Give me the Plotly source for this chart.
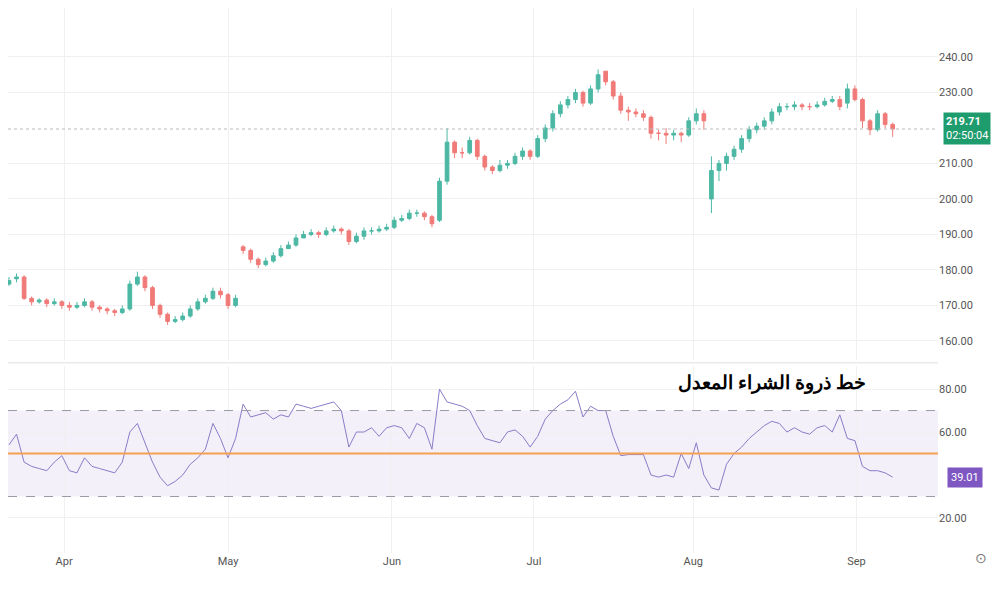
import plotly.graph_objects as go

# daily bars, indexed by trading day (late Mar .. early Sep)
closes = [177, 178, 172, 171, 171.5, 170.5, 171, 170, 169.5, 170,
          171, 169.5, 169, 168.5, 168, 169, 176, 178, 175, 170,
          167.5, 165.5, 166, 167, 169, 171, 172, 174, 173, 170,
          172, 185.5, 183, 181.5, 182.5, 184, 186, 187, 189, 190,
          190.5, 190, 191, 191.5, 191, 188, 189.5, 191, 191, 191.5,
          192, 194, 194.5, 196, 196, 195, 193, 205, 216, 213,
          213, 216.5, 212, 209, 208, 209.5, 210, 212, 213.5, 212,
          217, 220, 224, 226.5, 228, 230, 227, 231, 235, 233,
          229, 225, 224.5, 224, 223, 218.5, 218.5, 218, 218.5, 218,
          222, 224, 222, 208, 210, 212, 214, 217, 219.5, 220.5,
          222, 224.5, 226, 226, 226.5, 226, 226, 226.5, 227.5, 228,
          226, 231, 228, 222, 219.5, 224, 221, 219.71]
opens = [176, 177.5, 178, 172, 171, 171.5, 170.5, 171, 170, 169.5,
         170, 171, 169.5, 169, 168.5, 168, 169, 176, 178, 175,
         170, 167.5, 165.5, 166, 167, 169, 171, 172, 174, 173,
         170, 186.5, 185.5, 183, 181.5, 182.5, 184, 186, 187, 189,
         190, 190.5, 190, 191, 191.5, 191, 188, 189.5, 191, 191,
         191.5, 192, 194, 194.5, 196, 196, 195, 194, 205, 216,
         213, 213, 216.5, 212, 209, 208, 209.5, 210, 212, 213.5,
         212, 217, 220, 224, 226.5, 228, 230, 227, 231, 236,
         233, 229, 225, 224.5, 224, 223, 218.5, 218.5, 218, 218.5,
         218, 222, 224, 200, 208, 210, 212, 214, 217, 219.5,
         220.5, 222, 224.5, 226, 226, 226.5, 226, 226, 226.5, 227.5,
         228, 227, 231, 228, 222, 219.5, 224, 221]
highs = [178, 179, 178.5, 172.5, 172, 172, 172, 171.5, 171, 171,
         172, 171.5, 170, 169.5, 169, 170, 177, 179.5, 178.5, 175.5,
         170.5, 168, 167, 168, 170, 172, 173, 175, 175, 173.5,
         173, 187, 186, 183.5, 183.5, 185, 187, 188, 190, 191,
         191.5, 191, 192, 192.5, 192, 191.5, 190.5, 192, 192, 192.5,
         193, 195, 195.5, 197, 197, 196.5, 195.5, 206, 220, 216.5,
         214.5, 217.5, 217, 212.5, 209.5, 211, 211, 213, 214.5, 214,
         218, 221, 225, 227.5, 229, 231, 230.5, 232, 236.5, 236,
         233.5, 230, 226, 225.5, 225, 223.5, 219.5, 220, 219.5, 219,
         223, 225.5, 225, 212, 211, 213, 215, 218, 220.5, 221.5,
         223, 225.5, 227, 227, 227.5, 227, 227, 227.5, 228.5, 229,
         229, 232.5, 232, 228.5, 222.5, 225, 224.5, 221.5]
lows = [175.5, 176.5, 171.5, 170, 170.5, 169.5, 170, 169, 168.5, 169,
        169.5, 168.5, 168, 167.5, 167, 167.5, 168.5, 175.5, 174, 169,
        166.5, 164.5, 165, 165.5, 166.5, 168.5, 170.5, 171.5, 172, 169,
        169.5, 184.5, 182, 180.5, 181, 182, 183.5, 186, 186.5, 189,
        189.5, 189, 189.5, 190.5, 190, 187, 187.5, 188.5, 190, 190.5,
        191, 191.5, 193.5, 194, 195, 194, 192, 193.5, 204, 211.5,
        211.5, 212.5, 211, 208, 207, 207.5, 208.5, 209.5, 211, 211,
        211.5, 216, 219, 223, 225.5, 227, 226, 226.5, 230, 232,
        228, 224, 222, 223, 222, 217, 216.5, 215.5, 216.5, 216,
        217.5, 221, 219.5, 196, 205, 208, 211, 213, 216, 218.5,
        219.5, 221, 223.5, 225, 225, 225, 225, 225.5, 226, 227,
        225, 225.5, 227.5, 220, 218, 219, 220, 217.5]
rsi = [54, 59, 46, 44, 43, 42, 46, 49, 42, 41,
       48, 44, 43, 42, 41, 46, 60, 64, 55, 46,
       39, 35, 37, 40, 45, 48, 52, 64, 57, 48,
       57, 73, 67, 68, 69, 66, 68, 67, 73, 72,
       71, 72, 73, 74, 70, 53, 60, 60, 62, 58,
       62, 63, 62, 57, 64, 62, 52, 80, 74, 73,
       72, 70, 63, 57, 56, 55, 60, 61, 58, 53,
       58, 66, 70, 73, 75, 79, 67, 72, 70, 70,
       58, 49, 49.5, 49.5, 49.5, 40, 39, 40, 39, 50,
       43, 55, 40, 34, 33, 45, 50, 53, 57, 60,
       63, 65, 64, 60, 62, 60, 59, 62, 63, 60,
       68, 57, 56, 44, 42, 42, 41, 39.01]
idx = list(range(len(closes)))

month_labels = ["Apr", "May", "Jun", "Jul", "Aug", "Sep"]
month_pos = [7.3, 29, 50.7, 69.5, 90.6, 112.2]
price_ticks = [160, 170, 180, 190, 200, 210, 230, 240]
rsi_ticks = [20, 60, 80]
last_price = 219.71

grid = "#f0f0f3"
tick_font = dict(family="Roboto", size=11, color="#555")

fig = go.Figure()
fig.add_trace(go.Candlestick(
    x=idx, open=opens, high=highs, low=lows, close=closes,
    increasing=dict(line=dict(color="#4cb8a4", width=1), fillcolor="#4cb8a4"),
    decreasing=dict(line=dict(color="#f07a78", width=1), fillcolor="#f07a78"),
    whiskerwidth=0, showlegend=False, xaxis="x", yaxis="y"))
fig.add_trace(go.Scatter(
    x=idx, y=rsi, mode="lines", line=dict(color="#8a7cc8", width=1),
    showlegend=False, xaxis="x2", yaxis="y2"))

# RSI band and reference lines
fig.add_shape(type="rect", xref="x2 domain", yref="y2", x0=0, x1=1, y0=30, y1=70,
              fillcolor="rgba(126,87,194,0.09)", line_width=0, layer="below")
for lvl in (30, 70):
    fig.add_shape(type="line", xref="x2 domain", yref="y2", x0=0, x1=1, y0=lvl, y1=lvl,
                  line=dict(color="#9a9aa6", width=1, dash="dash"))
fig.add_shape(type="line", xref="x2 domain", yref="y2", x0=0, x1=1, y0=50, y1=50,
              line=dict(color="#f5a050", width=2))
fig.add_shape(type="line", xref="x domain", yref="y", x0=0, x1=1, y0=last_price, y1=last_price,
              line=dict(color="#bbbbbb", width=1, dash="dot"))
# pane separator
fig.add_shape(type="line", xref="paper", yref="paper", x0=0, x1=1, y0=0.349, y1=0.349,
              line=dict(color="#e0e0e0", width=1))

fig.add_annotation(x=1.005, xref="paper", y=last_price, yref="y", xanchor="left",
                   text="<b>219.71</b><br>02:50:04", showarrow=False, align="left",
                   bgcolor="#1e9c6e", font=dict(family="Roboto", size=11, color="white"),
                   borderpad=2)
fig.add_annotation(x=1.01, xref="paper", y=rsi[-1], yref="y2", xanchor="left",
                   text="39.01", showarrow=False, bgcolor="#7e57c2",
                   font=dict(family="Roboto", size=11, color="white"), borderpad=3)
fig.add_annotation(x=101, xref="x2", y=83.5, yref="y2", text="<b>خط ذروة الشراء المعدل</b>",
                   showarrow=False, font=dict(family="Noto Sans", size=19, color="black"))
fig.add_annotation(x=1.055, xref="paper", y=-0.03, yref="paper", text="⊙", showarrow=False,
                   font=dict(size=14, color="#777"))

xcommon = dict(range=[-0.13, 123.0], showgrid=True, gridcolor=grid, zeroline=False,
               tickvals=month_pos, ticktext=month_labels, tickfont=tick_font,
               rangeslider=dict(visible=False))
fig.update_layout(
    width=1004, height=590, plot_bgcolor="white", paper_bgcolor="white",
    margin=dict(l=0, r=74, t=0, b=45),
    xaxis=dict(**xcommon, showticklabels=False, anchor="y"),
    xaxis2=dict(**xcommon, anchor="y2", matches="x", ticks=""),
    yaxis=dict(domain=[0.354, 1], range=[154.6, 253.8], side="right", tickvals=price_ticks,
               tickformat=".2f", tickfont=tick_font, gridcolor=grid, zeroline=False,
               anchor="x"),
    yaxis2=dict(domain=[0, 0.343], range=[3.7, 90.7], side="right", tickvals=rsi_ticks,
                tickformat=".2f", tickfont=tick_font, gridcolor=grid, zeroline=False,
                anchor="x2"),
)

fig.write_html("out.html")
